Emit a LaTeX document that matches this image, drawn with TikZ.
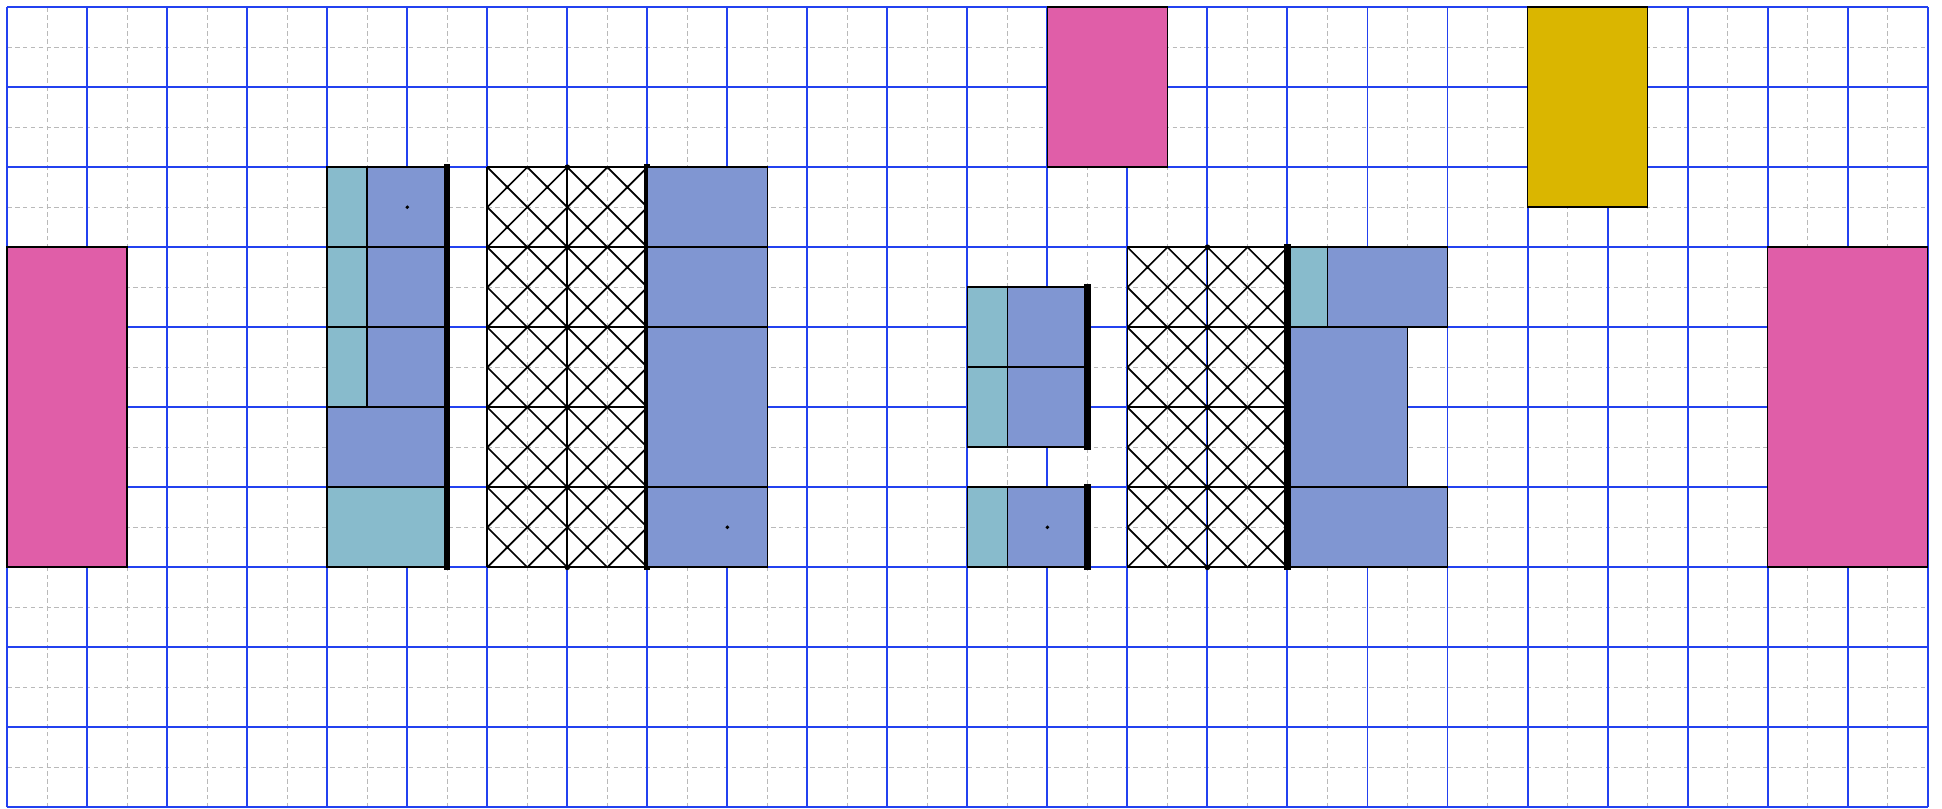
\documentclass[tikz,border=0pt]{standalone}
\usepackage{xcolor}
\definecolor{gridblue}{RGB}{35,65,240}
\definecolor{slotpink}{RGB}{224,94,168}
\definecolor{slotteal}{RGB}{136,187,204}
\definecolor{slotblue}{RGB}{128,150,210}
\definecolor{slotgold}{RGB}{218,182,0}

\begin{document}
\begin{tikzpicture}[
    fine/.style={gray!55,line width=0.5pt,dash pattern=on 1.6pt off 1.2pt},
    major/.style={gridblue,line width=0.7pt},
    cell/.style={draw=black,line width=0.6pt},
    pinkbox/.style={cell,fill=slotpink},
    tealbox/.style={cell,fill=slotteal},
    bluebox/.style={cell,fill=slotblue},
    goldbox/.style={cell,fill=slotgold},
    wall/.style={black,line width=2.2pt,line cap=rect},
    hatch/.style={black,line width=0.6pt}
  ]
    \useasboundingbox (-0.09,-0.01) rectangle (24.18,10.09);

    % background grid
    \draw[fine,step=0.5] (0,0) grid (24,10);
    \draw[major,step=1] (0,0) grid (24,10);

    % outer boxes
    \draw[pinkbox] (0,3) rectangle (1.5,7);
    \draw[pinkbox] (13,8) rectangle (14.5,10);
    \draw[pinkbox] (22,3) rectangle (24,7);
    \draw[goldbox] (19,7.5) rectangle (20.5,10);

    % hatched blocks
    \begin{scope}
      \clip (6,3) rectangle (8,8) (14,3) rectangle (16,7);
      \foreach \a in {0,1,...,44} {
        \draw[hatch] (\a/2,3) -- ++(8,8);
        \draw[hatch] (\a/2,3) -- ++(-8,8);
      }
    \end{scope}
    \foreach \x in {6.25,6.75,7.25,7.75}
      \foreach \y in {3.25,3.75,...,7.75}
        \fill (\x,\y) circle (0.65pt);
    \foreach \x in {14.25,14.75,15.25,15.75}
      \foreach \y in {3.25,3.75,...,6.75}
        \fill (\x,\y) circle (0.65pt);
    \draw[cell] (6,3) grid (8,8);
    \draw[cell] (14,3) grid (16,7);
    \foreach \y in {3,...,8} \fill (7,\y) circle (1pt);
    \foreach \y in {3,...,7} \fill (15,\y) circle (1pt);

    % left group
    \foreach \y in {5,6,7} {
      \draw[tealbox] (4,\y) rectangle (4.5,\y+1);
      \draw[bluebox] (4.5,\y) rectangle (5.5,\y+1);
    }
    \draw[bluebox] (4,4) rectangle (5.5,5);
    \draw[tealbox] (4,3) rectangle (5.5,4);
    \draw[wall] (5.5,3) -- (5.5,8);
    \draw[wall] (8,3) -- (8,8);
    \draw[bluebox] (8,7) rectangle (9.5,8);
    \draw[bluebox] (8,6) rectangle (9.5,7);
    \draw[bluebox] (8,4) rectangle (9.5,6);
    \draw[bluebox] (8,3) rectangle (9.5,4);
    \fill (5,7.5) circle (0.7pt);
    \fill (9,3.5) circle (0.7pt);

    % right group
    \foreach \y in {4.5,5.5} {
      \draw[tealbox] (12,\y) rectangle (12.5,\y+1);
      \draw[bluebox] (12.5,\y) rectangle (13.5,\y+1);
    }
    \draw[wall] (13.5,4.5) -- (13.5,6.5);
    \draw[tealbox] (12,3) rectangle (12.5,4);
    \draw[bluebox] (12.5,3) rectangle (13.5,4);
    \draw[wall] (13.5,3) -- (13.5,4);
    \fill (13,3.5) circle (0.7pt);
    \draw[tealbox] (16,6) rectangle (16.5,7);
    \draw[bluebox] (16.5,6) rectangle (18,7);
    \draw[bluebox] (16,4) rectangle (17.5,6);
    \draw[bluebox] (16,3) rectangle (18,4);
    \draw[wall] (16,3) -- (16,7);
  \end{tikzpicture}
\end{document}
